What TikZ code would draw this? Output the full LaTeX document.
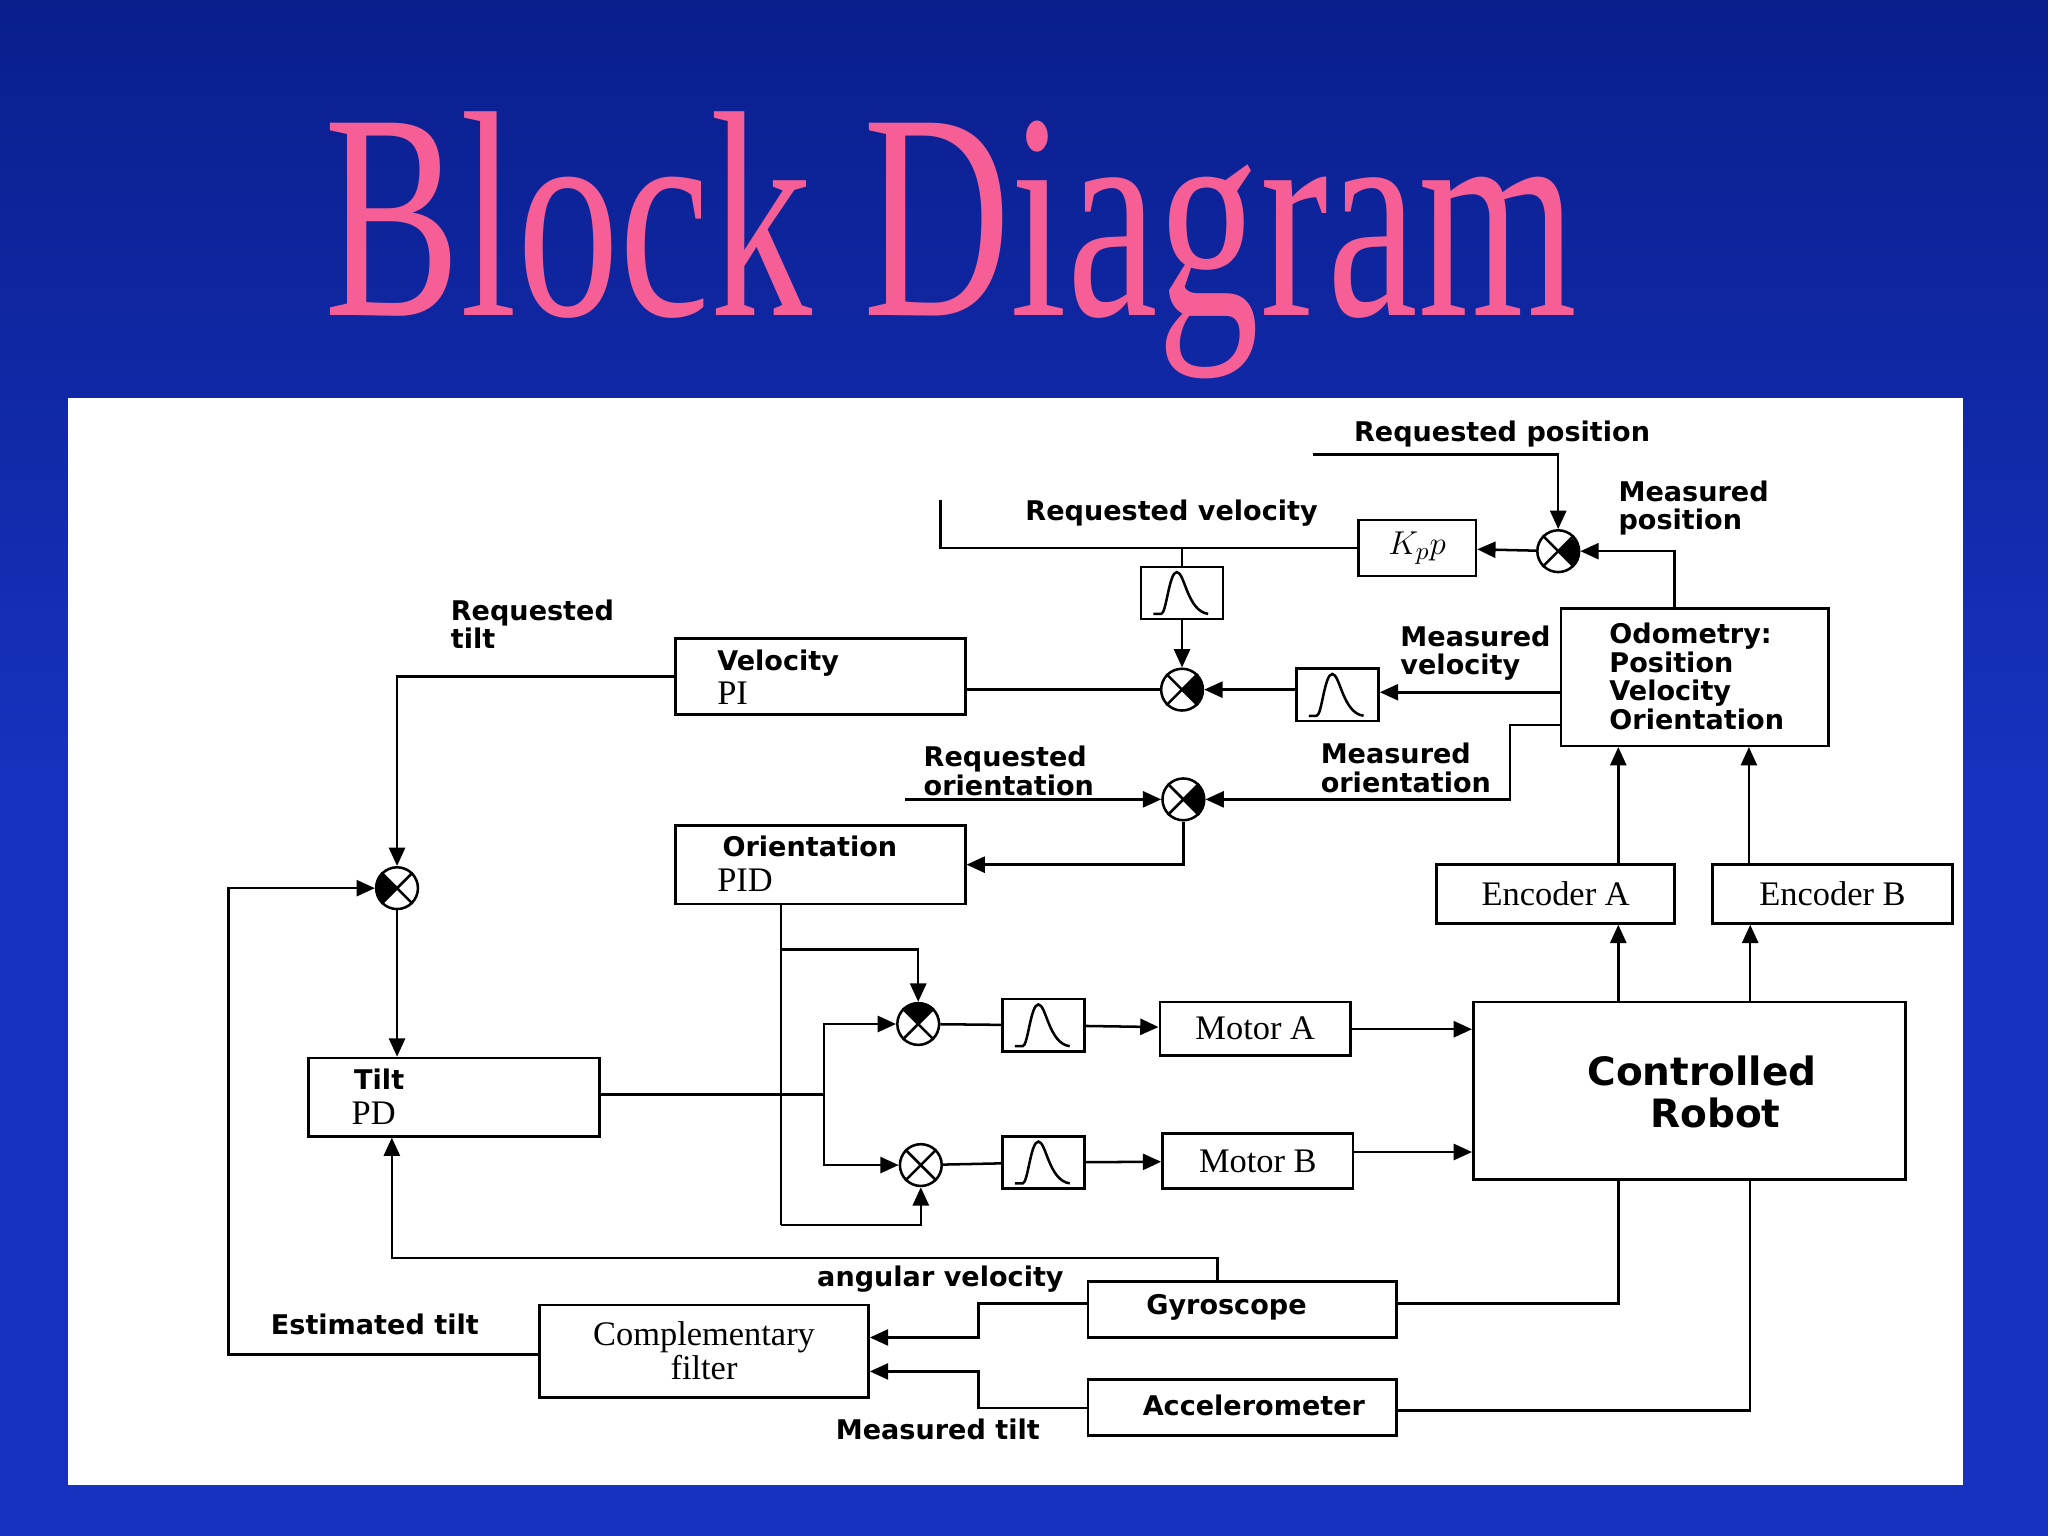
\documentclass[tikz,border=0pt]{standalone}
\usepackage{fontspec}
\setmainfont{Liberation Serif}
\newfontfamily\lblfont{DejaVu Sans}
\usepackage{tikz}
\usetikzlibrary{arrows.meta,positioning,calc,fit}

\definecolor{bgblue}{RGB}{22,50,190}
\definecolor{bgdark}{RGB}{10,30,140}
\definecolor{titlepink}{RGB}{245,95,150}

\begin{document}
\begin{tikzpicture}[
    x=0.02cm, y=-0.02cm,
    box/.style={draw, line width=1.1pt, inner sep=0pt},
    lbl/.style={font=\lblfont\bfseries\fontsize{11.8}{12.5}\selectfont, align=left},
    txt/.style={font=\fontsize{15}{15}\selectfont, align=center},
    sum/.style={circle, draw, line width=1.1pt, minimum size=0.64cm, inner sep=0pt},
    arrow/.style={-{Triangle[length=8pt,width=7pt]}, line width=1.1pt},
    line/.style={line width=1.1pt},
    title/.style={font=\fontsize{128}{130}\selectfont, xscale=0.695}
]

% background and title
\shade[top color=bgdark, bottom color=bgblue, middle color=bgblue] (0,0) rectangle (1568,1176);
\node[title, text=titlepink] (heading) at (728,188) {Block Diagram};
\fill[white] (52,305) rectangle (1503,1137);

% blocks
\node[box, fit={(1040,398) (1130,441)}] (kp) {};
\node[font=\fontsize{15}{15}\selectfont] at (kp) {$K_p p$};
\node[box, fit={(517,489) (739,547)}] (vpi) {};
\node[box, fit={(1195,466) (1400,571)}] (odo) {};
\node[box, fit={(517,632) (739,692)}] (opid) {};
\node[box, fit={(236,810) (459,870)}] (tpd) {};
\node[box, fit={(1100,662) (1282,707)}] (enca) {};
\node[box, fit={(1311,662) (1495,707)}] (encb) {};
\node[box, fit={(888,767) (1034,808)}] (mota) {};
\node[box, fit={(890,868) (1036,910)}] (motb) {};
\node[box, fit={(1128,767) (1459,903)}] (robot) {};
\node[box, fit={(413,999) (665,1070)}] (comp) {};
\node[box, fit={(833,981) (1069,1024)}] (gyro) {};
\node[box, fit={(833,1056) (1069,1099)}] (acc) {};

% block texts
\node[lbl, anchor=west] at (543,508) {Velocity};
\node[txt, anchor=west] at (543,531) {PI};
\node[lbl, anchor=west] at (547,648) {Orientation};
\node[txt, anchor=west] at (543,674) {PID};
\node[lbl, anchor=west] at (265,826) {Tilt};
\node[txt, anchor=west] at (263,852) {PD};
\node[lbl, anchor=west, font=\lblfont\bfseries\fontsize{11.8}{12.4}\selectfont] at (1226,518) {Odometry:\\Position\\Velocity\\Orientation};
\node[txt] at (enca) {Encoder A};
\node[txt] at (encb) {Encoder B};
\node[txt] at (mota) {Motor A};
\node[txt] at (motb) {Motor B};
\node[lbl, align=center, font=\lblfont\bfseries\fontsize{17}{18.5}\selectfont] at (1303,836) {Controlled\\ \ \ Robot};
\node[txt, font=\fontsize{15}{13}\selectfont] at (comp) {Complementary\\filter};
\node[lbl] at (939,1001) {Gyroscope};
\node[lbl] at (960,1076) {Accelerometer};

% summing junctions
\node[sum] (jpos) at (1193,422) {};
\node[sum] (jvel) at (905,528) {};
\node[sum] (jori) at (906,612) {};
\node[sum] (jtilt) at (304,680) {};
\node[sum] (jma) at (703,784) {};
\node[sum] (jmb) at (705,892) {};
\foreach \j in {jpos,jvel,jori,jtilt,jma,jmb}
  \draw[line] (\j.45) -- (\j.225) (\j.135) -- (\j.315);
\foreach \j/\a in {jpos/-45,jvel/-45,jori/-45,jtilt/135,jma/45}
  \fill (\j.center) -- (\j.\a) arc[start angle=\a, delta angle=90, radius=0.32cm] -- cycle;

% filters
\foreach \f/\x/\y in {fv/905/454, fm/1024/532, fa/799/785, fb/799/890} {
  \node[box, minimum width=1.26cm, minimum height=0.8cm] (\f) at (\x,\y) {};
  \draw[line] ($(\f)+(-22,16)$) -- ($(\f)+(-16,16)$)
    .. controls ($(\f)+(-12,16)$) and ($(\f)+(-10,-16)$) .. ($(\f)+(-4,-16)$)
    .. controls ($(\f)+(2,-16)$) and ($(\f)+(4,14)$) .. ($(\f)+(20,16)$);
}

% free ends
\coordinate (rpos) at (1005,348);
\coordinate (rvel) at (720,383);
\coordinate (rori) at (693,612);

% position and velocity loops
\draw[arrow] (rpos) -| (jpos);
\draw[arrow] (odo.north -| 1282,0) |- (jpos);
\draw[arrow] (jpos) -- (kp);
\draw[line] (kp.west) -| (rvel);
\draw[line] (fv.north) -- (fv.north |- kp.west);
\draw[arrow] (fv) -- (jvel);
\draw[arrow] (odo.west |- 0,530) -- (fm.east |- 0,530);
\draw[arrow] (fm.west |- jvel) -- (jvel);
\draw[line] (jvel) -- (vpi.east |- jvel);
\draw[arrow] (vpi.west) -| (jtilt);

% orientation loop
\draw[arrow] (odo.west |- 0,555) -- ++(-38,0) |- (jori);
\draw[arrow] (rori) -- (jori);
\draw[arrow] (jori) |- (opid.east |- 0,662);

% tilt loop
\draw[arrow] (jtilt) -- (tpd.north -| jtilt);
\draw[arrow] (comp.west |- 0,1037) -| (175,740) |- (jtilt);
\draw[arrow] (gyro.north -| 932,0) |- (300,963) -- (tpd.south -| 300,0);
\draw[arrow] (gyro.west |- 0,998) -| (749,1024) -- (comp.east |- 0,1024);
\draw[arrow] (acc.west |- 0,1078) -| (749,1050) -- (comp.east |- 0,1050);

% motor drive
\draw[line] (opid.south -| 598,0) -- (598,938);
\draw[arrow] (598,727) -| (jma);
\draw[arrow] (598,938) -| (jmb);
\draw[line] (tpd.east |- 0,838) -- (631,838);
\draw[arrow] (631,838) |- (jma);
\draw[arrow] (631,838) |- (jmb);
\draw[line] (jma) -- (fa);
\draw[line] (jmb) -- (fb);
\draw[arrow] (fa) -- (mota);
\draw[arrow] (fb) -- (motb);
\draw[arrow] (mota.east |- 0,788) -- (robot.west |- 0,788);
\draw[arrow] (motb.east |- 0,882) -- (robot.west |- 0,882);

% sensors
\draw[arrow] (robot.north -| 1239,0) -- (enca.south -| 1239,0);
\draw[arrow] (robot.north -| 1340,0) -- (encb.south -| 1340,0);
\draw[arrow] (enca.north -| 1239,0) -- (odo.south -| 1239,0);
\draw[arrow] (encb.north -| 1339,0) -- (odo.south -| 1339,0);
\draw[line] (gyro.east |- 0,998) -| (robot.south -| 1239,0);
\draw[line] (acc.east |- 0,1080) -| (robot.south -| 1340,0);

% signal labels
\node[lbl] at (1150,332) {Requested position};
\node[lbl, anchor=west] at (1233,389) {Measured\\position};
\node[lbl] at (897,393) {Requested velocity};
\node[lbl, anchor=west] at (1066,500) {Measured\\velocity};
\node[lbl, anchor=west] at (339,478) {Requested\\tilt};
\node[lbl, anchor=west] at (701,590) {Requested\\orientation};
\node[lbl, anchor=west] at (1005,588) {Measured\\orientation};
\node[lbl] at (720,979) {angular velocity};
\node[lbl] at (287,1014) {Estimated tilt};
\node[lbl] at (718,1094) {Measured tilt};

\end{tikzpicture}
\end{document}
